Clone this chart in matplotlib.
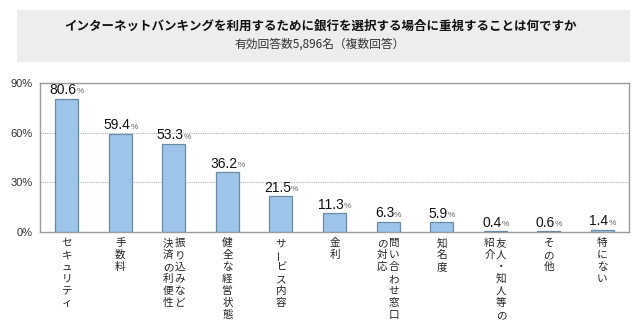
import matplotlib
matplotlib.use("Agg")
import matplotlib.pyplot as plt
from matplotlib.patches import Rectangle

plt.rcParams['font.family'] = ['Noto Sans CJK JP', 'DejaVu Sans']

title = "インターネットバンキングを利用するために銀行を選択する場合に重視することは何ですか"
subtitle = "有効回答数5,896名（複数回答）"

# each label: columns from right to left (vertical writing)
labels = [
    ["セキュリティ"],
    ["手数料"],
    ["振り込みなど", "決済の利便性"],
    ["健全な経営状態"],
    ["サービス内容"],
    ["金利"],
    ["問い合わせ窓口", "の対応"],
    ["知名度"],
    ["友人・知人等の", "紹介"],
    ["その他"],
    ["特にない"],
]
values = [80.6, 59.4, 53.3, 36.2, 21.5, 11.3, 6.3, 5.9, 0.4, 0.6, 1.4]
yticks = [0, 30, 60, 90]
ytick_labels = ["0%", "30%", "60%", "90%"]

fig = plt.figure(figsize=(6.4, 3.3), dpi=100)
fig.patch.set_facecolor("white")

# title box
fig.patches.append(Rectangle((17 / 640, 1 - 62 / 330), 613 / 640, 52 / 330,
                             transform=fig.transFigure, facecolor="#ededed",
                             edgecolor="none", zorder=0))
fig.text(0.5, 1 - 26 / 330, title, ha="center", va="center",
         fontsize=9, fontweight="bold", color="#111111")
fig.text(0.5, 1 - 44 / 330, subtitle, ha="center", va="center",
         fontsize=8.5, color="#333333")

ax = fig.add_axes([40 / 640, 1 - 232 / 330, 589 / 640, 149 / 330])
x = list(range(len(values)))
ax.bar(x, values, width=0.43, color="#9dc5e9", edgecolor="#6d8aa3",
       linewidth=0.9, zorder=3)

ax.set_xlim(-0.5, len(values) - 0.5)
ax.set_ylim(0, 90)
ax.set_yticks(yticks)
ax.set_yticklabels(ytick_labels, fontsize=8, color="#333333",
                   family=["Liberation Sans", "DejaVu Sans"])
ax.tick_params(axis="y", length=0, pad=5)
ax.set_xticks([])
for sp in ax.spines.values():
    sp.set_color("#9a9a9a")
    sp.set_linewidth(1.0)
for yv in [30, 60]:
    ax.axhline(yv, color="#b0b0b0", linestyle=(0, (1, 1)), linewidth=0.8, zorder=1)

# value labels: big number + small %
for xi, v in zip(x, values):
    num = ax.annotate(f"{v:.1f}", xy=(xi, v), xytext=(-2.5, 1),
                      textcoords="offset points", ha="center", va="bottom",
                      fontsize=10, color="#111111",
                      family=["Liberation Sans", "DejaVu Sans"])
    ax.annotate("%", xy=(1, 0.12), xycoords=num, ha="left", va="bottom",
                fontsize=6, color="#666666",
                family=["Liberation Sans", "DejaVu Sans"])

# vertical category labels, one glyph at a time
step = 8.6
for xi, cols in zip(x, labels):
    n = len(cols)
    for ci, col in enumerate(cols):
        dx = 0 if n == 1 else (4.1 - ci * 8.2)
        for k, ch in enumerate(col):
            rot = 90 if ch == "ー" else 0
            ax.annotate(ch, xy=(xi, 0), xycoords=("data", "axes fraction"),
                        xytext=(dx, -8 - k * step), textcoords="offset points",
                        ha="center", va="center", fontsize=7.6,
                        color="#222222", rotation=rot, annotation_clip=False)

fig.savefig("out.png", dpi=100)
